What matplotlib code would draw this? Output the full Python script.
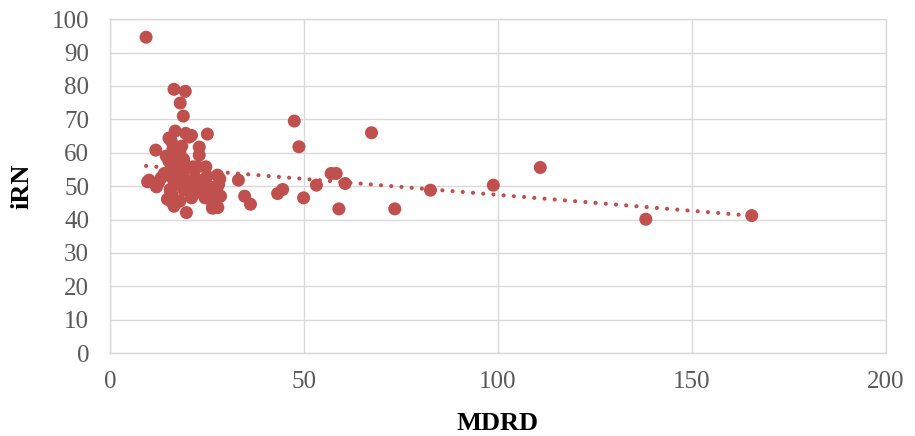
import numpy as np
import matplotlib
matplotlib.use("Agg")
from matplotlib import pyplot as plt

# MDRD vs iRN
mdrd = [9.3, 9.7, 10.1, 11.8, 12.0, 12.5, 13.2, 14.0, 14.5, 14.8,
        15.2, 15.2, 15.5, 15.5, 15.6, 15.8, 16.0, 16.0, 16.2, 16.3,
        16.5, 16.5, 16.5, 16.8, 17.0, 17.5, 17.8, 18.0, 18.0, 18.1,
        18.5, 18.8, 18.9, 19.0, 19.1, 19.4, 19.5, 19.5, 19.6, 19.7,
        20.2, 20.4, 20.5, 21.0, 21.0, 21.5, 21.7, 22.0, 22.5, 22.6,
        23.0, 23.0, 23.0, 24.0, 24.5, 24.7, 25.0, 25.1, 25.5, 26.0,
        26.4, 26.5, 26.9, 27.3, 27.5, 27.7, 27.8, 28.0, 28.3, 28.5,
        33.1, 34.7, 36.2, 43.2, 44.5, 47.5, 48.7, 49.9, 53.2, 57.0,
        58.3, 59.0, 60.6, 67.4, 73.4, 82.6, 98.8, 110.9, 138.1, 165.4]
irn = [94.6, 51.3, 51.8, 60.8, 49.8, 51.0, 52.5, 53.8, 59.0, 46.1,
       57.5, 64.4, 54.0, 49.0, 48.3, 63.5, 47.5, 45.3, 61.0, 52.0,
       55.0, 44.0, 79.0, 66.5, 58.5, 56.5, 50.5, 60.0, 45.5, 74.9,
       62.0, 53.5, 71.0, 58.0, 48.8, 78.4, 56.0, 65.8, 51.8, 42.1,
       50.5, 64.7, 55.5, 65.2, 46.5, 55.8, 47.8, 52.5, 49.5, 55.8,
       59.3, 61.7, 51.3, 48.0, 46.5, 55.8, 53.0, 65.6, 50.0, 47.0,
       43.4, 44.5, 47.3, 44.3, 49.0, 53.3, 43.6, 50.5, 52.2, 47.0,
       51.8, 47.0, 44.6, 47.8, 49.0, 69.5, 61.8, 46.5, 50.3, 53.8,
       53.8, 43.2, 50.8, 66.0, 43.2, 48.8, 50.3, 55.6, 40.1, 41.2]

x_ticks = [0, 50, 100, 150, 200]
y_ticks = [0, 10, 20, 30, 40, 50, 60, 70, 80, 90, 100]

red = "#C0504D"
grid_c = "#D9D9D9"
tick_c = "#595959"
serif = ["Liberation Serif", "DejaVu Serif"]

fig = plt.figure(figsize=(9.15, 4.36), dpi=100)
ax = fig.add_axes([0.1202, 0.19, 0.8481, 0.766])

x = np.array(mdrd)
y = np.array(irn)
ax.scatter(x, y, s=88, color=red, edgecolors="none", zorder=3)

# linear trendline
k, b = np.polyfit(x, y, 1)
xs = np.array([x.min(), x.max()])
ax.plot(xs, k * xs + b, color=red, lw=3.0, linestyle=(0, (0.01, 2.45)),
        dash_capstyle="round", zorder=2)

ax.set_xlim(0, 200)
ax.set_ylim(0, 100)
ax.set_xticks(x_ticks)
ax.set_yticks(y_ticks)
ax.grid(True, color=grid_c, lw=1.0, zorder=0)
ax.set_axisbelow(True)
for s in ax.spines.values():
    s.set_color(grid_c)
    s.set_linewidth(1.0)
ax.tick_params(length=0, colors=tick_c, labelsize=18)
ax.tick_params(axis="y", pad=15)
ax.tick_params(axis="x", pad=13)
for lab in ax.get_xticklabels() + ax.get_yticklabels():
    lab.set_family(serif)

ax.set_xlabel("MDRD", family=serif, fontsize=19, fontweight="bold", va="center")
ax.set_ylabel("iRN", family=serif, fontsize=19, fontweight="bold", va="center")
ax.xaxis.set_label_coords(0.5, -0.21)
ax.yaxis.set_label_coords(-0.113, 0.5)

fig.savefig("out.png", dpi=100)
